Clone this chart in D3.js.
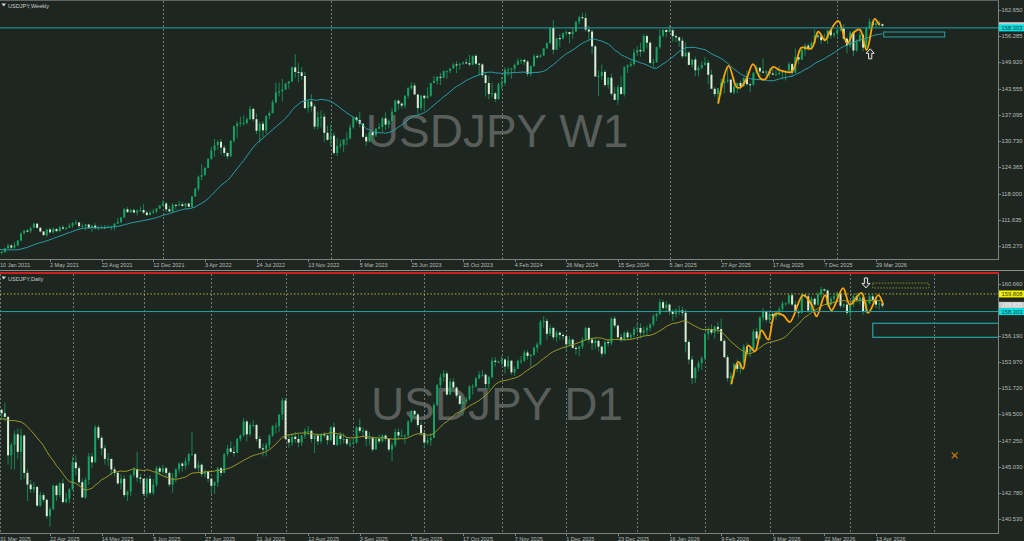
<!DOCTYPE html>
<html><head><meta charset="utf-8">
<script src="https://cdn.jsdelivr.net/npm/d3@7"></script>
<style>html,body{margin:0;padding:0;background:#1e2622;overflow:hidden}svg{display:block}</style>
</head><body>
<svg id="chart" width="1024" height="541"></svg>
<script>
// ---------------- DATA ----------------
const weeklyTitle = "USDJPY,Weekly";
const dailyTitle = "USDJPY,Daily";
const weeklyWatermark = "USDJPY W1";
const dailyWatermark = "USDJPY D1";

const weeklyDateLabels = ["10 Jan 2021","2 May 2021","22 Aug 2021","12 Dec 2021","3 Apr 2022","24 Jul 2022","13 Nov 2022","5 Mar 2023","25 Jun 2023","15 Oct 2023","4 Feb 2024","26 May 2024","15 Sep 2024","5 Jan 2025","27 Apr 2025","17 Aug 2025","7 Dec 2025","29 Mar 2026"];
const dailyDateLabels = ["31 Mar 2025","22 Apr 2025","14 May 2025","5 Jun 2025","27 Jun 2025","21 Jul 2025","12 Aug 2025","3 Sep 2025","25 Sep 2025","17 Oct 2025","7 Nov 2025","1 Dec 2025","23 Dec 2025","16 Jan 2026","9 Feb 2026","3 Mar 2026","22 Mar 2026","13 Apr 2026"];
const labelEvery = 16;

const weeklyPriceTicks = [162.650,156.285,149.920,143.555,137.095,130.730,124.365,118.000,111.635,105.270];
const dailyPriceTicks = [160.660,156.190,153.970,151.720,149.500,147.250,145.030,142.780,140.530];

const weeklyYearStarts = [51,103,156,208,260];
const dailyMonthStarts = [0.6,23,45,66,89,110,132,156,176,198,219,239,264,290];

// weekly bars [open, high, low, close], first bar = week of 10 Jan 2021
const weeklyOHLC = [
[103.9,104.4,103.5,103.8],[103.8,104.1,103.3,103.8],[103.8,104.9,103.6,104.7],[104.7,105.8,104.6,105.4],[105.4,105.7,104.5,104.9],
[104.9,106.2,104.6,105.4],[105.4,106.7,105.2,106.6],[106.6,108.6,106.4,108.3],[108.3,109.2,108.3,109.0],[109.0,109.4,108.6,108.9],
[108.9,110.0,108.4,109.6],[109.7,110.9,109.6,110.7],[110.7,110.8,109.5,109.7],[109.7,109.9,108.6,108.8],[108.8,108.9,107.8,107.9],
[107.9,109.3,107.5,109.3],[109.3,109.7,108.3,108.6],[108.6,109.8,108.3,109.4],[109.4,109.6,108.6,108.9],[108.9,110.2,108.6,109.8],
[109.8,110.3,109.2,109.5],[109.5,109.8,109.2,109.7],[109.7,110.8,109.6,110.2],[110.2,111.1,109.7,110.8],[110.8,111.7,110.4,111.0],
[111.0,111.1,109.5,110.1],[110.1,110.7,109.7,110.1],[110.1,110.6,109.1,110.5],[110.5,110.6,109.4,109.7],[109.7,110.4,108.7,110.2],
[110.2,110.8,109.3,109.6],[109.6,110.2,109.1,109.8],[109.8,110.3,109.6,109.8],[109.8,110.4,109.6,109.7],[109.7,110.4,109.6,109.9],
[109.9,110.2,109.1,109.9],[109.9,110.8,109.1,110.7],[110.7,112.1,110.7,111.1],[111.1,112.3,110.8,112.2],[112.2,114.5,112.1,114.2],
[114.2,114.7,113.4,113.5],[113.5,114.3,113.3,114.0],[114.0,114.4,113.3,113.4],[113.4,114.2,112.7,113.9],[113.9,114.9,113.6,114.0],
[114.0,115.5,113.1,113.4],[113.4,113.9,112.6,112.8],[112.8,113.9,112.7,113.4],[113.4,114.3,113.1,113.7],[113.7,114.5,113.2,114.4],
[114.4,115.2,114.3,115.1],[115.1,116.4,115.0,115.6],[115.6,116.0,113.5,114.2],[114.2,115.1,113.5,113.7],[113.7,115.7,113.5,115.3],
[115.3,115.4,114.2,115.2],[115.2,116.3,114.9,115.4],[115.4,116.0,114.8,115.0],[115.0,115.8,114.4,115.6],[115.6,115.8,114.7,114.8],
[114.8,117.4,114.7,117.3],[117.3,119.4,117.3,119.2],[119.2,122.4,118.6,122.1],[122.1,125.1,121.3,122.5],[122.5,124.3,122.4,124.3],
[124.3,126.7,124.2,126.4],[126.4,129.4,126.3,128.5],[128.5,131.3,126.9,129.8],[129.8,131.0,128.6,130.6],[130.6,131.3,127.5,129.2],
[129.2,129.8,127.0,127.9],[127.9,128.0,126.4,127.1],[127.1,130.9,126.9,130.9],[130.9,134.6,130.4,134.4],[134.4,135.6,131.5,135.0],
[135.0,136.7,134.3,135.2],[135.2,137.0,134.5,135.2],[135.2,136.6,134.8,136.1],[136.1,139.4,136.0,138.6],[138.6,138.9,135.6,136.1],
[136.1,137.5,132.5,133.3],[133.3,135.5,130.4,135.0],[135.0,135.6,131.7,133.4],[133.4,137.0,132.6,136.9],[136.9,138.0,136.1,137.6],
[137.6,140.8,137.5,140.2],[140.2,145.0,140.0,142.6],[142.6,145.0,141.7,142.9],[142.9,145.9,140.4,143.3],[143.3,144.9,143.3,144.8],
[144.8,145.4,143.5,145.3],[145.3,148.9,145.2,148.7],[148.7,151.9,146.2,147.6],[147.6,149.7,145.1,147.5],[147.5,148.8,145.7,146.6],
[146.6,147.6,138.5,138.8],[138.8,140.8,137.7,140.4],[140.4,142.2,138.0,139.2],[139.2,139.9,133.6,134.3],[134.3,137.9,133.6,136.6],
[136.6,138.2,134.1,136.7],[136.7,137.5,130.6,132.8],[132.8,134.5,130.8,131.1],[131.1,134.8,129.5,132.1],[132.1,132.9,127.5,127.9],
[127.9,131.6,127.2,129.6],[129.6,131.1,129.0,129.9],[129.9,131.2,128.1,131.2],[131.2,132.9,129.8,131.4],[131.4,134.8,131.2,134.1],
[134.1,136.5,133.8,136.5],[136.5,136.9,135.3,135.9],[135.9,137.9,134.1,135.0],[135.0,135.1,131.6,131.8],[131.8,132.6,129.6,130.7],
[130.7,133.0,130.5,132.9],[132.9,133.4,130.6,132.2],[132.2,134.0,131.7,133.8],[133.8,135.1,133.6,134.2],[134.2,136.6,133.0,136.3],
[136.3,137.8,133.5,134.8],[134.8,136.0,133.8,135.7],[135.7,138.8,135.6,137.9],[137.9,140.9,137.8,140.6],[140.6,140.9,138.4,139.9],
[139.9,140.2,138.7,139.4],[139.4,141.9,138.8,141.8],[141.8,143.9,141.1,143.7],[143.7,145.1,143.2,144.3],[144.3,144.9,142.1,142.1],
[142.1,142.2,137.2,138.8],[138.8,142.0,138.2,141.8],[141.8,142.0,138.1,141.2],[141.2,143.9,141.1,141.8],[141.8,144.9,141.5,144.9],
[144.9,146.6,144.9,145.4],[145.4,146.6,144.5,146.4],[146.4,147.4,144.4,146.2],[146.2,147.9,146.0,147.8],[147.8,148.0,145.9,147.8],
[147.8,148.5,147.3,148.4],[148.4,149.7,148.4,149.4],[149.4,150.2,147.3,149.3],[149.3,149.8,148.2,149.6],[149.6,150.1,149.3,149.9],
[149.9,150.8,149.6,149.7],[149.7,151.7,149.0,149.4],[149.4,151.6,149.2,151.5],[151.5,151.9,149.2,149.6],[149.6,149.8,146.7,149.4],
[149.4,149.7,146.2,146.8],[146.8,147.5,141.6,144.9],[144.9,146.6,140.9,142.2],[142.2,144.9,141.4,142.4],[142.4,142.8,140.3,141.0],
[141.0,145.0,140.8,144.6],[144.6,146.4,143.4,144.9],[144.9,148.8,144.3,148.1],[148.1,148.7,146.6,148.2],[148.2,148.6,145.9,148.4],
[148.4,149.6,147.6,149.3],[149.3,150.9,149.2,150.2],[150.2,150.8,149.5,150.5],[150.5,150.8,149.2,150.1],[150.1,150.5,146.5,147.1],
[147.1,149.2,146.5,149.0],[149.0,151.9,148.9,151.4],[151.4,151.9,150.8,151.3],[151.3,151.9,151.0,151.6],[151.6,153.4,151.5,153.3],
[153.3,154.8,153.3,154.6],[154.6,158.4,154.5,158.3],[158.3,160.2,151.9,153.0],[153.0,155.9,153.0,155.8],[155.8,156.8,153.6,155.7],
[155.7,157.2,155.5,157.0],[157.0,157.7,156.4,157.3],[157.3,157.3,154.6,156.8],[156.8,158.3,155.7,157.4],[157.4,159.9,157.3,159.8],
[159.8,161.3,159.2,160.9],[160.9,162.0,160.4,160.7],[160.7,161.8,157.4,157.9],[157.9,158.9,155.4,157.4],[157.4,157.9,151.9,153.8],
[153.8,154.2,146.4,146.5],[146.5,147.9,141.7,146.6],[146.6,149.4,145.6,147.6],[147.6,148.1,144.0,144.4],[144.4,146.2,143.5,146.2],
[146.2,147.2,141.8,142.3],[142.3,144.0,140.7,140.8],[140.8,144.5,139.6,143.9],[143.9,146.5,142.2,142.2],[142.2,149.0,141.6,148.7],
[148.7,149.5,147.3,149.1],[149.1,150.3,148.8,149.5],[149.5,153.2,149.1,152.3],[152.3,153.9,151.5,152.9],[152.9,154.7,151.3,152.6],
[152.6,156.8,152.3,156.3],[156.3,156.7,153.3,154.7],[154.7,155.0,149.5,149.8],[149.8,150.8,148.7,150.0],[150.0,153.7,149.8,153.6],
[153.6,157.9,153.2,156.4],[156.4,158.1,156.0,157.8],[157.8,158.0,156.0,157.3],[157.3,158.9,157.2,157.7],[157.7,158.2,154.9,156.3],
[156.3,156.8,154.8,156.0],[156.0,156.2,153.7,155.2],[155.2,155.9,150.9,151.4],[151.4,154.8,151.3,152.3],[152.3,152.6,149.3,149.3],
[149.3,150.7,148.6,150.6],[150.6,151.3,146.5,148.0],[148.0,149.2,146.5,148.6],[148.6,150.2,148.2,149.3],[149.3,151.2,149.1,149.8],
[149.8,150.5,144.6,146.9],[146.9,148.1,143.5,143.5],[143.5,143.9,141.6,142.2],[142.2,143.7,139.9,143.6],[143.6,145.9,141.9,144.9],
[144.9,146.2,142.4,145.4],[145.4,148.6,144.9,145.7],[145.7,145.9,142.4,142.6],[142.6,146.3,142.1,144.0],[144.0,145.0,142.4,144.9],
[144.9,145.5,143.3,144.1],[144.1,146.3,143.9,146.1],[146.1,148.0,144.3,144.6],[144.6,145.0,142.7,144.5],[144.5,147.5,144.2,147.4],
[147.4,149.2,147.2,148.6],[148.6,148.8,145.9,147.7],[147.7,150.9,147.4,147.4],[147.4,148.0,146.6,147.7],[147.7,148.5,146.2,147.2],
[147.2,148.8,146.9,146.9],[146.9,148.0,146.7,147.0],[147.0,149.1,146.8,147.4],[147.4,148.0,145.8,147.7],[147.7,148.0,145.5,147.9],
[147.9,150.0,147.6,149.5],[149.5,149.8,146.6,147.4],[147.4,153.3,147.4,151.2],[151.2,152.6,149.4,150.6],[150.6,153.2,150.5,152.9],
[152.9,154.5,151.5,154.0],[154.0,154.5,152.8,153.4],[153.4,155.0,152.9,154.6],[154.6,157.9,154.6,156.4],[156.4,157.2,155.6,156.2],
[156.2,156.2,154.4,155.3],[155.3,156.9,155.0,155.8],[155.8,157.7,154.4,157.7],[157.7,157.8,155.6,156.5],[156.5,157.2,155.9,156.9],
[156.9,158.2,156.2,157.9],[157.9,160.0,157.5,158.1],[158.1,159.2,155.5,155.7],[155.7,156.0,152.1,154.0],[154.0,157.6,153.5,157.2],
[157.2,157.6,151.5,152.8],[152.8,155.5,152.5,155.1],[155.1,157.9,154.8,156.6],[156.6,157.0,152.6,153.5],[153.5,158.6,153.0,158.2],
[158.2,160.5,157.9,159.8],[159.8,160.3,158.4,159.0],[159.0,160.4,158.3,159.4],[159.4,160.0,158.6,159.2],[159.2,159.3,158.6,158.8]
];
// 19 weekly closes before the first bar (for the 20-period average)
const weeklyPriorCloses = [105.9,106.2,104.6,105.6,105.3,105.6,105.4,104.7,104.7,103.4,104.6,103.9,104.1,104.2,104.0,103.3,103.6,103.2,103.9];

// daily bars [open, high, low, close], first bar = 31 Mar 2025
const dailyOHLC = [
[149.8,150.0,148.7,149.9],[149.9,150.0,149.1,149.6],[149.6,150.5,148.9,149.3],[149.3,149.3,145.2,146.0],[146.0,147.1,144.8,146.9],
[146.9,148.1,144.8,147.8],[147.8,148.3,145.7,146.3],[146.3,148.3,143.9,147.7],[147.7,147.8,144.0,144.5],[144.5,144.8,142.1,143.5],
[143.5,143.9,142.8,143.1],[143.1,143.7,142.8,143.3],[143.3,143.4,141.6,141.7],[141.7,142.9,141.6,142.6],[142.6,142.8,142.0,142.2],
[142.2,142.3,140.6,140.8],[140.8,141.6,139.9,141.4],[141.4,143.5,141.3,143.4],[143.4,143.5,142.1,142.6],[142.6,143.7,142.4,143.6],
[143.6,144.0,141.9,142.0],[142.0,142.8,141.9,142.3],[142.3,143.2,141.9,143.1],[143.1,145.9,143.0,145.4],[145.4,146.0,144.3,144.9],
[144.9,145.1,143.5,143.7],[143.7,144.0,142.4,142.4],[142.4,144.1,142.3,143.9],[143.9,146.2,143.5,145.9],[145.9,146.2,144.9,145.4],
[145.4,148.6,145.4,148.4],[148.4,148.6,147.3,147.5],[147.5,147.7,146.0,146.6],[146.6,146.9,145.2,145.7],[145.7,146.2,145.1,145.7],
[145.7,145.7,144.3,144.8],[144.8,145.0,144.2,144.5],[144.5,144.6,143.5,143.6],[143.6,144.4,143.1,144.0],[144.0,144.3,142.4,142.6],
[142.6,143.0,142.1,142.9],[142.9,144.4,142.5,144.3],[144.3,145.0,144.1,144.8],[144.8,146.3,143.7,144.1],[144.1,144.4,143.6,144.0],
[144.0,144.0,142.5,142.7],[142.7,144.1,142.4,144.0],[144.0,144.3,142.6,142.8],[142.8,144.0,142.6,143.5],[143.5,145.1,143.3,144.9],
[144.9,145.1,144.3,144.6],[144.6,145.2,144.4,144.9],[144.9,145.0,144.2,144.5],[144.5,144.6,143.3,143.5],[143.5,144.5,142.8,144.1],
[144.1,144.9,143.7,144.8],[144.8,145.4,144.5,145.3],[145.3,145.4,144.6,145.1],[145.1,145.8,144.8,145.5],[145.5,146.2,145.2,146.1],
[146.1,148.0,146.0,146.1],[146.1,146.2,144.8,144.9],[144.9,145.5,144.6,145.2],[145.2,145.3,144.2,144.4],[144.4,144.8,144.1,144.6],
[144.6,144.7,143.7,144.0],[144.0,144.1,142.7,143.4],[143.4,143.8,142.7,143.7],[143.7,145.0,143.3,144.9],[144.9,145.0,144.2,144.5],
[144.5,146.2,144.5,146.1],[146.1,146.9,145.9,146.6],[146.6,147.2,146.2,146.3],[146.3,146.8,145.9,146.2],[146.2,147.5,146.2,147.4],
[147.4,147.8,147.2,147.7],[147.7,149.2,147.6,148.9],[148.9,149.0,147.2,147.8],[147.8,148.8,147.6,148.6],[148.6,149.0,148.4,148.6],
[148.6,148.7,147.2,147.4],[147.4,147.6,146.6,146.6],[146.6,147.0,145.9,146.5],[146.5,147.1,145.9,146.9],[146.9,147.8,146.6,147.7],
[147.7,148.6,147.6,148.5],[148.5,148.8,147.9,148.5],[148.5,149.5,148.0,149.5],[149.5,150.9,149.0,150.7],[150.7,150.9,147.3,147.4],
[147.4,147.8,146.6,147.1],[147.1,147.9,146.8,147.6],[147.6,148.0,147.1,147.4],[147.4,147.8,146.7,147.1],[147.1,147.8,146.8,147.7],
[147.7,148.3,147.4,148.1],[148.1,148.5,147.7,148.1],[148.1,148.2,147.1,147.4],[147.4,147.8,146.2,147.7],[147.7,147.9,146.9,147.2],
[147.2,147.9,147.0,147.8],[147.8,148.0,147.5,147.7],[147.7,147.8,146.9,147.3],[147.3,148.5,147.2,148.4],[148.4,148.8,146.9,146.9],
[146.9,147.8,146.8,147.7],[147.7,148.0,146.9,147.4],[147.4,147.9,147.0,147.4],[147.4,147.6,146.8,147.0],[147.0,147.4,146.7,147.0],
[147.0,147.5,146.9,147.1],[147.1,148.5,147.0,148.4],[148.4,149.1,147.9,148.1],[148.1,148.4,147.6,148.1],[148.1,148.2,146.8,147.4],
[147.4,148.0,146.9,147.5],[147.5,147.7,146.3,146.5],[146.5,147.6,146.5,147.4],[147.4,147.8,147.0,147.2],[147.2,147.8,147.1,147.7],
[147.7,147.8,147.2,147.4],[147.4,147.5,146.3,146.5],[146.5,147.1,145.5,146.9],[146.9,148.3,146.7,148.0],[148.0,148.3,147.3,147.7],
[147.7,148.2,147.6,147.7],[147.7,147.8,147.0,147.7],[147.7,149.0,147.6,148.9],[148.9,149.9,148.8,149.8],[149.8,149.9,149.2,149.5],
[149.5,149.6,148.4,148.6],[148.6,148.9,147.7,147.9],[147.9,148.0,146.6,147.1],[147.1,147.6,146.9,147.3],[147.3,147.9,146.8,147.5],
[147.5,150.5,147.5,150.3],[150.3,152.1,150.2,152.0],[152.0,153.0,151.7,152.7],[152.7,153.3,152.3,153.0],[153.0,153.2,151.1,151.2],
[151.2,152.6,151.2,152.3],[152.3,152.6,151.5,151.8],[151.8,151.9,150.9,151.1],[151.1,151.3,150.3,150.4],[150.4,150.8,149.4,150.6],
[150.6,151.0,150.4,150.8],[150.8,152.0,150.7,151.9],[151.9,152.1,151.2,151.9],[151.9,152.7,151.8,152.6],[152.6,153.2,152.5,152.9],
[152.9,153.3,152.7,152.9],[152.9,153.0,151.6,152.1],[152.1,152.8,151.6,152.7],[152.7,154.4,152.6,154.1],[154.1,154.4,153.6,154.0],
[154.0,154.1,153.9,154.0],[154.0,154.5,153.7,154.2],[154.2,154.3,153.0,153.6],[153.6,154.5,153.4,154.1],[154.1,154.1,152.9,153.1],
[153.1,153.6,152.8,153.4],[153.4,154.2,153.4,154.1],[154.1,154.5,153.8,154.1],[154.1,155.0,154.0,154.8],[154.8,155.0,154.2,154.5],
[154.5,154.7,153.6,154.6],[154.6,155.3,154.5,155.2],[155.2,155.7,154.8,155.5],[155.5,157.6,155.4,157.4],[157.4,157.9,156.9,157.5],
[157.5,157.7,155.9,156.4],[156.4,157.2,156.2,156.9],[156.9,157.0,155.9,156.1],[156.1,156.7,155.7,156.5],[156.5,156.6,155.9,156.3],
[156.3,156.5,155.9,156.2],[156.2,156.2,154.9,155.5],[155.5,156.2,155.3,155.9],[155.9,156.0,155.1,155.2],[155.2,155.4,154.6,155.1],
[155.1,155.4,154.5,155.3],[155.3,156.1,155.1,155.9],[155.9,157.0,155.8,156.9],[156.9,157.0,155.6,155.9],[155.9,156.1,155.0,155.6],
[155.6,156.0,155.1,155.8],[155.8,155.9,154.9,155.3],[155.3,155.4,154.4,154.7],[154.7,155.8,154.6,155.7],[155.7,156.0,155.3,155.6],
[155.6,157.8,155.4,157.7],[157.7,157.9,156.9,157.1],[157.1,157.2,155.9,156.1],[156.1,156.4,155.7,155.9],[155.9,156.6,155.8,156.5],
[156.5,156.7,155.9,156.1],[156.1,156.5,155.9,156.3],[156.3,157.0,156.1,156.8],[156.8,157.3,156.5,156.9],[156.9,157.3,156.0,156.5],
[156.5,157.0,156.2,156.7],[156.7,157.1,156.2,156.9],[156.9,157.3,156.6,157.2],[157.2,158.1,157.0,157.9],[157.9,158.2,157.5,158.1],
[158.1,159.4,158.0,159.1],[159.1,159.3,158.4,158.6],[158.6,159.2,158.3,158.9],[158.9,159.0,158.0,158.3],[158.3,158.5,157.5,158.1],
[158.1,158.6,157.8,158.4],[158.4,158.8,158.0,158.4],[158.4,158.7,157.9,158.2],[158.2,158.5,154.8,155.7],[155.7,155.9,153.8,154.2],
[154.2,154.5,152.1,152.6],[152.6,153.6,152.2,153.5],[153.5,154.1,153.2,153.9],[153.9,154.5,153.3,154.3],[154.3,156.5,154.1,156.4],
[156.4,157.0,155.9,156.8],[156.8,157.2,156.3,156.5],[156.5,157.1,156.0,157.0],[157.0,157.4,156.4,156.8],[156.8,157.7,155.7,155.8],
[155.8,156.0,154.3,154.4],[154.4,154.6,152.3,152.6],[152.6,153.1,152.0,152.8],[152.8,153.9,152.6,153.8],[153.8,154.2,153.1,153.4],
[153.4,154.0,153.0,153.9],[153.9,155.5,153.8,155.3],[155.3,155.6,154.5,154.8],[154.8,155.3,154.4,155.1],[155.1,156.8,155.0,156.6],
[156.6,156.9,155.8,156.0],[156.0,157.9,155.9,157.8],[157.8,158.6,157.5,158.3],[158.3,158.4,157.4,157.6],[157.6,158.3,157.3,158.1],
[158.1,158.3,157.4,157.9],[157.9,158.4,157.6,158.2],[158.2,158.7,157.9,158.5],[158.5,159.2,158.3,159.0],[159.0,159.1,158.8,159.0],
[159.0,159.8,158.9,159.7],[159.7,159.9,158.8,158.9],[158.9,159.2,158.1,158.3],[158.3,158.5,157.8,158.2],[158.2,159.9,158.1,159.7],
[159.7,159.8,159.5,159.6],[159.6,159.8,158.2,158.4],[158.4,159.6,158.3,159.4],[159.4,159.5,158.7,158.9],[158.9,160.0,158.8,159.8],
[159.8,160.4,159.5,160.2],[160.2,160.3,160.0,160.1],[160.1,160.2,158.7,158.9],[158.9,159.6,158.8,159.4],[159.4,159.9,159.0,159.6],
[159.6,160.0,159.1,159.9],[159.9,160.1,158.6,158.8],[158.8,159.0,158.6,158.9],[158.9,159.6,158.0,158.2],[158.2,159.0,157.8,158.9],
[158.9,159.8,158.7,159.6],[159.6,159.9,159.1,159.3],[159.3,159.7,158.9,159.5],[159.5,159.9,158.0,158.3],[158.3,159.2,158.1,159.0],
[159.0,159.8,158.9,159.6],[159.6,159.8,159.1,159.3],[159.3,159.6,158.6,158.9],[158.9,159.2,158.5,159.0],[159.0,159.1,158.6,158.8]
];
const dailyPriorCloses = [149.8,149.0,147.9,148.0,147.3,147.8,148.7,147.8,148.6,149.2,149.3,148.7,148.8,149.3,150.7,149.9,150.6,151.1,149.8];

// orange swing curve: [bar index, price]
const weeklySwingBars   = [223.1,226.3,228.8,230.0,231.9,233.9,236.2,237.6,240.1,242.2,245.8,247.4,248.9,252.0,254.1,256.2,257.7,260.3,263.1,264.9,267.0,269.1,271.6,273.0];
const weeklySwingPrices = [139.9,149.05,143.9,143.8,146.0,149.5,146.0,145.8,148.8,148.0,147.6,150.4,153.5,153.3,157.4,155.3,157.4,160.0,154.5,157.0,157.9,152.9,160.5,159.0];
const dailySwingBars   = [227.2,229.3,230.8,232.4,234.5,236.5,238.6,240.7,243.2,245.3,249.4,252.0,253.6,256.2,258.2,261.8,263.9,267.5,269.6,272.7,274.2];
const dailySwingPrices = [152.1,154.0,153.4,155.4,154.9,156.7,155.9,158.1,158.0,157.4,159.7,158.9,157.9,159.7,158.4,160.3,158.9,159.9,158.2,159.7,158.9];

// levels and objects
const levelLine = 158.303;
const bidPrice = 158.835;
const dailyDottedLevel = 159.808;
const zoneTop = 157.30, zoneBottom = 156.10;
const weeklyZoneBars = [274.4, 293.3];
const dailyZoneStartBar = 271.0;
const dailyUpperBoxBars = [271.0, 288.4];
const dailyUpperBoxPrices = [160.74, 160.32];
const weeklyArrowAt = [270.2, 152.0];
const dailyArrowAt = [268.9, 160.75];
const dailyMarkerAt = [296.4, 146.0];
const maPeriod = 20;

// ---------------- DRAWING ----------------
const W = 1024, H = 541;
const plotRight = 999;
const topPanel = {y0: 1, y1: 259};
const botPanel = {y0: 274, y1: 533};

const C = {
  bg: "#1e2622", frame: "#7d8280", axisText: "#b8bcb9", grid: "#737875",
  bull: "#17a262", bear: "#dcefd6", wick: "#1c8450",
  maTop: "#2a9ea6", maBot: "#9a9a24", swing: "#ffa500", level: "#24a3a3",
  watermark: "#595e5a", red: "#c8231f"
};

const svg = d3.select("#chart");
svg.append("rect").attr("width", W).attr("height", H).attr("fill", C.bg);

const xS = d3.scaleLinear().domain([0, 272]).range([-1.6, 876]);
const yTop = d3.scaleLinear().domain([162.65, 105.27]).range([10, 246]);
const yBot = d3.scaleLinear().domain([160.66, 140.53]).range([284, 519.3]);

const defs = svg.append("defs");
defs.append("clipPath").attr("id", "clipTop").append("rect")
  .attr("x", 0).attr("y", topPanel.y0).attr("width", plotRight).attr("height", topPanel.y1 - topPanel.y0);
defs.append("clipPath").attr("id", "clipBot").append("rect")
  .attr("x", 0).attr("y", botPanel.y0).attr("width", plotRight).attr("height", botPanel.y1 - botPanel.y0);

function sma(closes, prior, n) {
  const all = prior.concat(closes);
  const off = prior.length;
  return closes.map((c, i) => {
    const j = i + off;
    const s = Math.max(0, j - n + 1);
    return d3.mean(all.slice(s, j + 1));
  });
}

const FONT = "Liberation Sans, Arial, sans-serif";

function drawPanel(o) {
  const y = o.y, p = o.p;
  const g = svg.append("g");
  const plot = g.append("g").attr("clip-path", `url(#${o.clip})`);

  plot.append("text").attr("x", 497).attr("y", o.wmY)
    .attr("text-anchor", "middle").attr("font-family", FONT)
    .attr("font-size", 46).attr("fill", C.watermark).text(o.watermark);

  plot.selectAll("line.sep").data(o.gridBars).join("line").attr("class", "sep")
    .attr("x1", d => Math.round(xS(d)) + 0.5).attr("x2", d => Math.round(xS(d)) + 0.5)
    .attr("y1", p.y0).attr("y2", p.y1)
    .attr("stroke", C.grid).attr("stroke-width", 1).attr("stroke-dasharray", "2,2");

  const bars = plot.append("g");
  bars.selectAll("line.wick").data(o.data).join("line").attr("class", "wick")
    .attr("x1", (d, i) => xS(i)).attr("x2", (d, i) => xS(i))
    .attr("y1", d => y(d[1])).attr("y2", d => y(d[2]))
    .attr("stroke", C.wick).attr("stroke-width", 1);
  bars.selectAll("rect.body").data(o.data).join("rect").attr("class", "body")
    .attr("x", (d, i) => xS(i) - 1).attr("width", 2)
    .attr("y", d => y(Math.max(d[0], d[3])))
    .attr("height", d => Math.max(1, Math.abs(y(d[0]) - y(d[3]))))
    .attr("fill", d => d[3] >= d[0] ? C.bull : C.bear);

  const ma = sma(o.data.map(d => d[3]), o.prior, maPeriod);
  plot.append("path").datum(ma)
    .attr("d", d3.line().x((d, i) => xS(i)).y(d => y(d)))
    .attr("fill", "none").attr("stroke", o.maColor).attr("stroke-width", 1);

  const sw = o.swingB.map((b, i) => [b, o.swingP[i]]);
  plot.append("path").datum(sw)
    .attr("d", d3.line().x(d => xS(d[0])).y(d => y(d[1])).curve(d3.curveCatmullRom.alpha(0.5)))
    .attr("fill", "none").attr("stroke", C.swing).attr("stroke-width", 1.8);

  plot.append("line").attr("x1", 0).attr("x2", plotRight)
    .attr("y1", y(levelLine)).attr("y2", y(levelLine))
    .attr("stroke", C.level).attr("stroke-width", 1);

  g.append("line").attr("x1", plotRight - 0.5).attr("x2", plotRight - 0.5).attr("y1", p.y0).attr("y2", p.y1)
    .attr("stroke", C.frame);
  g.append("line").attr("x1", 0).attr("x2", plotRight).attr("y1", p.y1 + 0.5).attr("y2", p.y1 + 0.5)
    .attr("stroke", C.frame);

  g.append("path").attr("d", `M1.5,${p.y0 + 2.5} L6,${p.y0 + 2.5} L3.75,${p.y0 + 5.5} Z`).attr("fill", "#d8d8d8");
  g.append("text").attr("x", 8).attr("y", p.y0 + 6.5)
    .attr("font-family", FONT).attr("font-size", 5.6)
    .attr("fill", "#c8ccc9").text(o.title);

  o.ticks.forEach(t => {
    g.append("line").attr("x1", plotRight - 0.5).attr("x2", plotRight + 2)
      .attr("y1", Math.round(y(t)) + 0.5).attr("y2", Math.round(y(t)) + 0.5).attr("stroke", C.frame);
    g.append("text").attr("x", 1001.5).attr("y", y(t) + 2)
      .attr("font-family", FONT).attr("font-size", 5.8)
      .attr("fill", C.axisText).text(t.toFixed(3));
  });

  o.labels.forEach((lab, k) => {
    const bx = xS(k * labelEvery);
    g.append("line").attr("x1", Math.round(bx) + 0.5).attr("x2", Math.round(bx) + 0.5)
      .attr("y1", p.y1 + 1).attr("y2", p.y1 + 3).attr("stroke", C.frame);
    g.append("text").attr("x", Math.max(0, bx)).attr("y", p.y1 + 7.8)
      .attr("font-family", FONT).attr("font-size", 5.5)
      .attr("fill", C.axisText).text(lab);
  });
  return {g, plot};
}

function priceTag(g, y, value, bg, fg) {
  g.append("rect").attr("x", plotRight).attr("y", y(value) - 3.5).attr("width", W - plotRight).attr("height", 7)
    .attr("fill", bg);
  g.append("text").attr("x", 1001.5).attr("y", y(value) + 2)
    .attr("font-family", FONT).attr("font-size", 5.8)
    .attr("fill", fg).text(value.toFixed(3));
}

function blockArrow(g, cx, cy, dir) {
  const pts = [[0, -5], [4, -0.5], [1.6, -0.5], [1.6, 5], [-1.6, 5], [-1.6, -0.5], [-4, -0.5]]
    .map(q => [cx + q[0], cy + q[1] * (dir < 0 ? 1 : -1)]);
  g.append("path").attr("d", "M" + pts.map(q => q.join(",")).join("L") + "Z")
    .attr("fill", "#2a2f2c").attr("stroke", "#e8e8e8").attr("stroke-width", 1);
}

svg.append("line").attr("x1", 0).attr("x2", plotRight).attr("y1", 0.5).attr("y2", 0.5).attr("stroke", "#5f6462");

const topP = drawPanel({y: yTop, data: weeklyOHLC, prior: weeklyPriorCloses, clip: "clipTop", p: topPanel,
  title: weeklyTitle, watermark: weeklyWatermark, wmY: 147, maColor: C.maTop, gridBars: weeklyYearStarts,
  labels: weeklyDateLabels, ticks: weeklyPriceTicks, swingB: weeklySwingBars, swingP: weeklySwingPrices});

topP.plot.append("rect").attr("x", xS(weeklyZoneBars[0])).attr("width", xS(weeklyZoneBars[1]) - xS(weeklyZoneBars[0]))
  .attr("y", yTop(zoneTop)).attr("height", yTop(zoneBottom) - yTop(zoneTop))
  .attr("fill", "none").attr("stroke", C.level).attr("stroke-width", 1);
blockArrow(topP.plot, xS(weeklyArrowAt[0]), yTop(weeklyArrowAt[1]), -1);

svg.append("line").attr("x1", 0).attr("x2", W).attr("y1", 270.5).attr("y2", 270.5).attr("stroke", "#8a8e8c");
svg.append("rect").attr("x", 0).attr("y", 272).attr("width", plotRight).attr("height", 2).attr("fill", C.red);

const botP = drawPanel({y: yBot, data: dailyOHLC, prior: dailyPriorCloses, clip: "clipBot", p: botPanel,
  title: dailyTitle, watermark: dailyWatermark, wmY: 420, maColor: C.maBot, gridBars: dailyMonthStarts,
  labels: dailyDateLabels, ticks: dailyPriceTicks, swingB: dailySwingBars, swingP: dailySwingPrices});

botP.plot.append("line").attr("x1", 0).attr("x2", plotRight)
  .attr("y1", yBot(dailyDottedLevel)).attr("y2", yBot(dailyDottedLevel))
  .attr("stroke", "#b4b42a").attr("stroke-width", 1).attr("stroke-dasharray", "1.5,2");
botP.plot.append("rect").attr("x", xS(dailyZoneStartBar)).attr("width", plotRight + 10 - xS(dailyZoneStartBar))
  .attr("y", yBot(zoneTop)).attr("height", yBot(zoneBottom) - yBot(zoneTop))
  .attr("fill", "none").attr("stroke", C.level).attr("stroke-width", 1.2);
botP.plot.append("rect").attr("x", xS(dailyUpperBoxBars[0])).attr("width", xS(dailyUpperBoxBars[1]) - xS(dailyUpperBoxBars[0]))
  .attr("y", yBot(dailyUpperBoxPrices[0])).attr("height", yBot(dailyUpperBoxPrices[1]) - yBot(dailyUpperBoxPrices[0]))
  .attr("fill", "none").attr("stroke", "#8c8c20").attr("stroke-width", 1).attr("stroke-dasharray", "1.5,1.5");
blockArrow(botP.plot, xS(dailyArrowAt[0]), yBot(dailyArrowAt[1]), 1);
{
  const mx = xS(dailyMarkerAt[0]), my = yBot(dailyMarkerAt[1]);
  botP.plot.append("path").attr("d", `M${mx-3},${my-3}L${mx+3},${my+3}M${mx+3},${my-3}L${mx-3},${my+3}`)
    .attr("stroke", "#c87a10").attr("stroke-width", 1.2);
  botP.plot.append("rect").attr("x", mx - 1.5).attr("y", my - 1.5).attr("width", 3).attr("height", 3).attr("fill", "#b36a0c");
}

// weekly bid tag sits behind the level tag (only its top edge shows, as in the reference)
topP.g.append("rect").attr("x", plotRight).attr("y", yTop(bidPrice) - 3.5).attr("width", W - plotRight).attr("height", 4)
  .attr("fill", "#c9cbca");
priceTag(topP.g, yTop, levelLine, "#00e0e0", "#1a3a3a");
priceTag(botP.g, yBot, dailyDottedLevel, "#f0f000", "#3a3a10");
priceTag(botP.g, yBot, bidPrice, "#c9cbca", "#f4f4f4");
priceTag(botP.g, yBot, levelLine, "#00e0e0", "#1a3a3a");
</script>
</body></html>
